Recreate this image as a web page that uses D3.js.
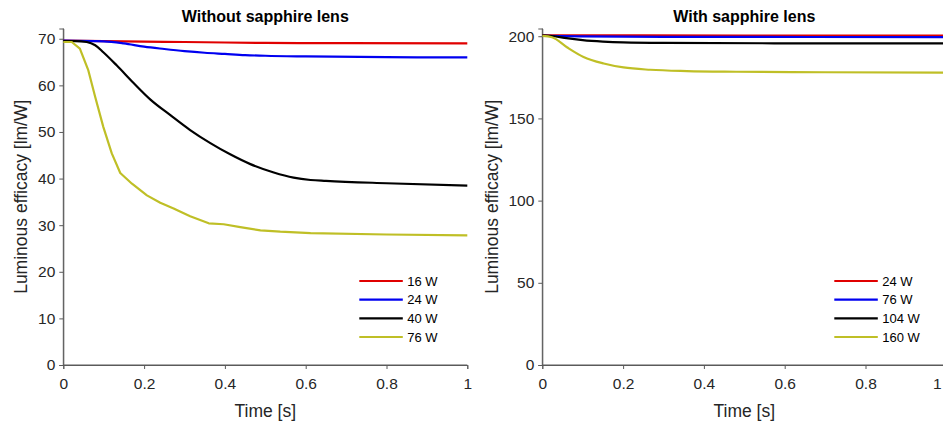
<!DOCTYPE html>
<html><head><meta charset="utf-8">
<script src="https://cdn.jsdelivr.net/npm/d3@7"></script>
<style>
body{margin:0;background:#fff;}
svg{font-family:"Liberation Sans",Arial,Helvetica,sans-serif;}
</style></head>
<body><svg id="c" width="943" height="423"></svg>
<script>
// ---- data ----
const leftTitle = "Without sapphire lens";
const rightTitle = "With sapphire lens";
const xTicks = [0, 0.2, 0.4, 0.6, 0.8, 1];
const leftYTicks = [0, 10, 20, 30, 40, 50, 60, 70];
const rightYTicks = [0, 50, 100, 150, 200];
const leftLabels = ["16 W", "24 W", "40 W", "76 W"];
const rightLabels = ["24 W", "76 W", "104 W", "160 W"];
const colors = ["#e00000", "#0000f0", "#000000", "#bfbf26"];

const left16 = [[0,69.6],[0.1,69.5],[0.2,69.4],[0.3,69.3],[0.4,69.2],[0.5,69.1],[0.7,69.05],[1,69.0]];
const left24 = [[0,69.6],[0.1,69.45],[0.15,69.0],[0.2,68.3],[0.25,67.8],[0.3,67.35],[0.35,67.0],[0.4,66.75],[0.45,66.5],[0.5,66.35],[0.6,66.2],[0.8,66.05],[1,66.0]];
const left40 = [[0,69.5],[0.03,69.5],[0.058,69.3],[0.079,68.6],[0.099,67.1],[0.132,64.3],[0.174,60.5],[0.215,57.0],[0.265,53.6],[0.314,50.4],[0.364,47.6],[0.413,45.2],[0.463,43.1],[0.521,41.3],[0.570,40.2],[0.612,39.7],[0.65,39.5],[0.8,39.0],[1,38.5]];
const left76 = [[0,69.3],[0.021,69.3],[0.041,67.9],[0.062,63.2],[0.079,57.5],[0.099,51.1],[0.120,45.4],[0.141,41.2],[0.170,38.9],[0.207,36.4],[0.240,34.8],[0.273,33.6],[0.314,31.9],[0.360,30.4],[0.397,30.2],[0.438,29.6],[0.488,28.9],[0.537,28.6],[0.612,28.3],[0.8,28.0],[1,27.8]];

const right24 = [[0,200.6],[0.2,200.5],[0.5,200.4],[1,200.4]];
const right76 = [[0,200.3],[0.1,199.9],[0.3,199.6],[1,199.5]];
const right104 = [[0,200.5],[0.03,200.0],[0.06,198.8],[0.1,197.6],[0.15,196.7],[0.2,196.2],[0.3,195.9],[0.6,195.7],[1,195.7]];
const right160 = [[0,200.2],[0.024,199.4],[0.061,193.3],[0.102,187.4],[0.152,183.4],[0.201,181.0],[0.267,179.6],[0.358,178.8],[0.48,178.4],[0.7,178.1],[1,177.9]];

const svg = d3.select("#c");

function panel(x0, yMax, yTicks, title, series, labels, legX, ylabOff, curves) {
  const W = 404, top = 28.5, bottom = 365;
  const x = d3.scaleLinear().domain([0, 1]).range([x0, x0 + W]);
  const y = d3.scaleLinear().domain([0, yMax]).range([bottom, top]);
  const g = svg.append("g");

  const xa = g.append("g").attr("transform", `translate(0,${bottom})`)
    .call(d3.axisBottom(x).tickValues(xTicks).tickFormat(d3.format("~g")).tickSizeOuter(0).tickSize(4).tickPadding(9));
  const ya = g.append("g").attr("transform", `translate(${x0},0)`)
    .call(d3.axisLeft(y).tickValues(yTicks).tickFormat(d3.format("~g")).tickSizeOuter(0).tickSize(4).tickPadding(4));
  [xa, ya].forEach(a => {
    a.select(".domain").attr("stroke", "#5a5a5a").attr("stroke-width", 1);
    a.selectAll(".tick line").attr("stroke", "#5a5a5a");
    a.selectAll(".tick text").attr("fill", "#262626").attr("font-size", 15.5);
  });
  // keep the last x tick label inside the window
  xa.selectAll(".tick text").each(function(d) {
    const t = d3.select(this);
    const bb = this.getBBox();
    const absRight = x(d) + bb.width / 2;
    if (absRight > 941) t.attr("text-anchor", "end").attr("x", 941 - x(d));
  });
  g.append("line").attr("x1", x0).attr("x2", x0).attr("y1", top).attr("y2", bottom).attr("stroke", "#5a5a5a");
  g.append("line").attr("x1", x0).attr("x2", x0 + W).attr("y1", bottom).attr("y2", bottom).attr("stroke", "#5a5a5a");

  series.forEach((s, i) => {
    const line = d3.line().x(d => x(d[0])).y(d => y(d[1])).curve(curves[i]);
    g.append("path").datum(s).attr("d", line).attr("fill", "none")
      .attr("stroke", colors[i]).attr("stroke-width", 2.2).attr("stroke-linejoin", "round");
  });

  g.append("text").attr("x", x0 + W / 2).attr("y", 22).attr("text-anchor", "middle")
    .attr("font-size", 16).attr("font-weight", "bold").attr("fill", "#000").text(title);
  g.append("text").attr("x", x0 + W / 2).attr("y", 417).attr("text-anchor", "middle")
    .attr("font-size", 17.5).attr("fill", "#262626").text("Time [s]");
  g.append("text").attr("transform", `translate(${x0 - ylabOff},${(top + bottom) / 2}) rotate(-90)`)
    .attr("text-anchor", "middle").attr("font-size", 17.5).attr("fill", "#262626").text("Luminous efficacy [lm/W]");

  const rows = [281, 299.7, 318.3, 337];
  labels.forEach((lab, i) => {
    g.append("line").attr("x1", legX).attr("x2", legX + 43.5).attr("y1", rows[i]).attr("y2", rows[i])
      .attr("stroke", colors[i]).attr("stroke-width", 2.2);
    g.append("text").attr("x", legX + 48).attr("y", rows[i] + 4.5).attr("font-size", 13).attr("fill", "#000").text(lab);
  });
}

const mono = d3.curveMonotoneX, lin = d3.curveLinear;
panel(63.3, 72.2, leftYTicks, leftTitle, [left16, left24, left40, left76], leftLabels, 359.3, 36, [mono, mono, mono, lin]);
panel(542.3, 204.7, rightYTicks, rightTitle, [right24, right76, right104, right160], rightLabels, 834.3, 44, [mono, mono, mono, mono]);
</script></body></html>
